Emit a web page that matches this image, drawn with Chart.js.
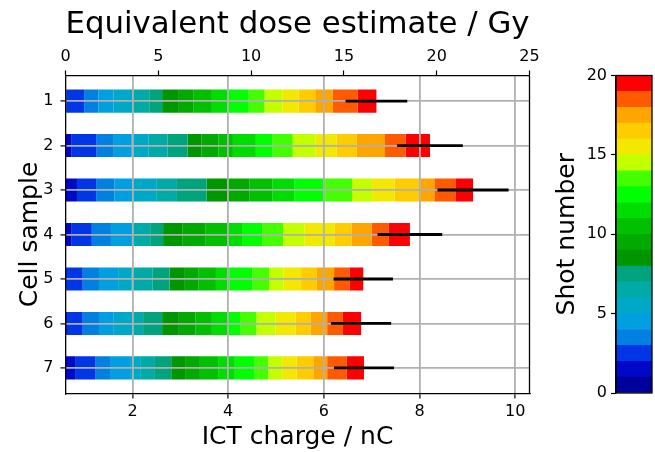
<!DOCTYPE html>
<html>
<head>
<meta charset="utf-8">
<script src="https://cdn.jsdelivr.net/npm/chart.js@4/dist/chart.umd.min.js"></script>
<style>
  html, body { margin: 0; padding: 0; background: #fff; }
  #wrap { position: relative; width: 655px; height: 452px; }
  #main { position: absolute; left: 0; top: 0; }
  #cbar { position: absolute; left: 540px; top: 0; }
</style>
</head>
<body>
<div id="wrap">
  <canvas id="main" width="560" height="452"></canvas>
  <canvas id="cbar" width="115" height="452"></canvas>
</div>
<script>
// cell samples on the y axis
const samples = [1, 2, 3, 4, 5, 6, 7];

// ICT charge per shot (nC), shots 1..20, one array per cell sample
const chargeSample1 = [0.31, 0.31, 0.37, 0.30, 0.31, 0.40, 0.35, 0.27, 0.35, 0.31, 0.38, 0.35, 0.42, 0.33, 0.38, 0.33, 0.35, 0.37, 0.52, 0.39];
const chargeSample2 = [0.37, 0.36, 0.52, 0.36, 0.37, 0.36, 0.39, 0.42, 0.29, 0.36, 0.30, 0.48, 0.35, 0.42, 0.48, 0.44, 0.42, 0.59, 0.43, 0.51];
const chargeSample3 = [0.42, 0.42, 0.40, 0.38, 0.37, 0.52, 0.42, 0.62, 0.45, 0.45, 0.48, 0.45, 0.65, 0.56, 0.42, 0.47, 0.54, 0.29, 0.44, 0.37];
const chargeSample4 = [0.37, 0.36, 0.42, 0.40, 0.42, 0.03, 0.37, 0.27, 0.40, 0.48, 0.49, 0.28, 0.42, 0.44, 0.45, 0.62, 0.36, 0.42, 0.36, 0.44];
const chargeSample5 = [0.28, 0.30, 0.38, 0.34, 0.40, 0.285, 0.43, 0.36, 0.32, 0.29, 0.36, 0.28, 0.48, 0.35, 0.30, 0.37, 0.33, 0.36, 0.32, 0.29];
const chargeSample6 = [0.31, 0.32, 0.33, 0.34, 0.31, 0.38, 0.25, 0.38, 0.35, 0.35, 0.34, 0.35, 0.24, 0.34, 0.40, 0.42, 0.31, 0.35, 0.33, 0.38];
const chargeSample7 = [0.40, 0.40, 0.43, 0.30, 0.42, 0.21, 0.31, 0.34, 0.29, 0.31, 0.38, 0.35, 0.40, 0.30, 0.29, 0.30, 0.35, 0.29, 0.41, 0.36];
const shotCharges = [chargeSample1, chargeSample2, chargeSample3, chargeSample4, chargeSample5, chargeSample6, chargeSample7];

// uncertainty on the total charge (nC)
const chargeError = [0.645, 0.686, 0.743, 0.676, 0.620, 0.628, 0.628];

// tick labels
const chargeTicks = [2, 4, 6, 8, 10];
const doseTicks = [0, 5, 10, 15, 20, 25];
const shotTicks = [0, 5, 10, 15, 20];

// one colour per shot
const shotColors = [
  '#00009a', '#0008c8', '#0036e6', '#0080e0', '#00a0e0',
  '#00a8c8', '#00aaa6', '#00a47c', '#009600', '#00aa00',
  '#00c000', '#00dd00', '#00ff00', '#44ff00', '#c4ff00',
  '#f2e800', '#ffcc00', '#ffa500', '#ff5a00', '#ff0000'
];

const FONT = "'DejaVu Sans', sans-serif";
const tickFont = { family: FONT, size: 16 };
const titleFont = { family: FONT, size: 25 };

// grid sits on top of the bars (z > 0)
const gridStyle = { color: '#b0b0b0', lineWidth: 1.8, tickColor: '#000', tickLength: 5, tickWidth: 1.2, offset: false, z: 1 };
const borderStyle = { display: true, color: '#000', width: 1.3, z: 1 };
const setTicks = (vals) => (axis) => { axis.ticks = vals.map(v => ({ value: v })); };

// right-hand spine of the plot frame
const frameRight = {
  id: 'frameRight',
  afterDraw(chart) {
    const { ctx, chartArea: a } = chart;
    ctx.save();
    ctx.strokeStyle = '#000';
    ctx.lineWidth = 1.3;
    ctx.beginPath();
    ctx.moveTo(a.right, a.top);
    ctx.lineTo(a.right, a.bottom);
    ctx.stroke();
    ctx.restore();
  }
};

// horizontal error bars at the end of each stacked bar
const errorBars = {
  id: 'errorBars',
  afterDraw(chart) {
    const { ctx } = chart;
    const xs = chart.scales.x, ys = chart.scales.y;
    ctx.save();
    ctx.strokeStyle = '#000';
    ctx.lineWidth = 2.8;
    samples.forEach((s, i) => {
      const total = shotCharges[i].reduce((a, b) => a + b, 0);
      const y = ys.getPixelForValue(s);
      ctx.beginPath();
      ctx.moveTo(xs.getPixelForValue(total - chargeError[i]), y);
      ctx.lineTo(xs.getPixelForValue(total + chargeError[i]), y);
      ctx.stroke();
    });
    ctx.restore();
  }
};

new Chart(document.getElementById('main'), {
  type: 'bar',
  data: {
    datasets: shotColors.map((c, k) => ({
      label: 'Shot ' + (k + 1),
      data: samples.map((s, i) => ({ y: s, x: shotCharges[i][k] })),
      backgroundColor: c,
      xAxisID: 'x',
      yAxisID: 'y'
    }))
  },
  options: {
    indexAxis: 'y',
    responsive: false,
    animation: false,
    events: [],
    layout: { padding: { left: 0, right: 30.5, top: 0, bottom: 0 } },
    plugins: { legend: { display: false }, tooltip: { enabled: false } },
    datasets: { bar: { barPercentage: 0.52, categoryPercentage: 1, borderWidth: 0 } },
    scales: {
      x: {
        type: 'linear', position: 'bottom', stacked: true, min: 0.6, max: 10.3, offset: false,
        afterBuildTicks: setTicks(chargeTicks),
        afterFit: (s) => { s.height = 58.5; },
        grid: gridStyle,
        border: borderStyle,
        ticks: { color: '#000', font: tickFont, padding: 4, maxRotation: 0 },
        title: { display: true, text: 'ICT charge / nC', color: '#000', font: titleFont, padding: { top: 0, bottom: 0 } }
      },
      x2: {
        type: 'linear', position: 'top', min: 0, max: 25, offset: false,
        afterBuildTicks: setTicks(doseTicks),
        afterFit: (s) => { s.height = 75.5; },
        grid: { drawOnChartArea: false, tickColor: '#000', tickLength: 5, tickWidth: 1.2, offset: false, z: 1 },
        border: borderStyle,
        ticks: { color: '#000', font: tickFont, padding: 4, maxRotation: 0 },
        title: { display: true, text: 'Equivalent dose estimate / Gy', color: '#000', font: { family: FONT, size: 31 }, padding: { top: 6, bottom: 0 } }
      },
      y: {
        type: 'linear', position: 'left', reverse: true, stacked: true, min: 0.425, max: 7.575, offset: false,
        afterBuildTicks: setTicks(samples),
        afterFit: (s) => { s.width = 65.5; },
        grid: gridStyle,
        border: borderStyle,
        ticks: { color: '#000', font: tickFont, padding: 7 },
        title: { display: true, text: 'Cell sample', color: '#000', font: titleFont, padding: { top: 15, bottom: 0 } }
      }
    }
  },
  plugins: [frameRight, errorBars]
});

// colour bar: one unit cell per shot
new Chart(document.getElementById('cbar'), {
  type: 'bar',
  data: {
    labels: [''],
    datasets: shotColors.map((c, k) => ({ label: 'Shot ' + (k + 1), data: [1], backgroundColor: c }))
  },
  options: {
    responsive: false,
    animation: false,
    events: [],
    layout: { padding: { left: 0, right: 3, top: 75.5, bottom: 59 } },
    plugins: { legend: { display: false }, tooltip: { enabled: false } },
    datasets: { bar: { barPercentage: 1, categoryPercentage: 1, borderWidth: 0 } },
    scales: {
      x: { display: false, stacked: true },
      y: {
        type: 'linear', position: 'left', stacked: true, min: 0, max: 20,
        afterBuildTicks: setTicks(shotTicks),
        afterFit: (s) => { s.width = 76; },
        grid: { drawOnChartArea: false, tickColor: '#000', tickLength: 5, tickWidth: 1.2 },
        border: borderStyle,
        ticks: { color: '#000', font: tickFont, padding: 4 },
        title: { display: true, text: 'Shot number', color: '#000', font: titleFont, padding: { top: 12, bottom: 0 } }
      }
    }
  },
  plugins: [{
    id: 'cbarFrame',
    afterDraw(chart) {
      const { ctx, chartArea: a } = chart;
      ctx.save();
      ctx.strokeStyle = '#000';
      ctx.lineWidth = 1.3;
      ctx.strokeRect(a.left, a.top, a.right - a.left, a.bottom - a.top);
      ctx.restore();
    }
  }]
});
</script>
</body>
</html>
